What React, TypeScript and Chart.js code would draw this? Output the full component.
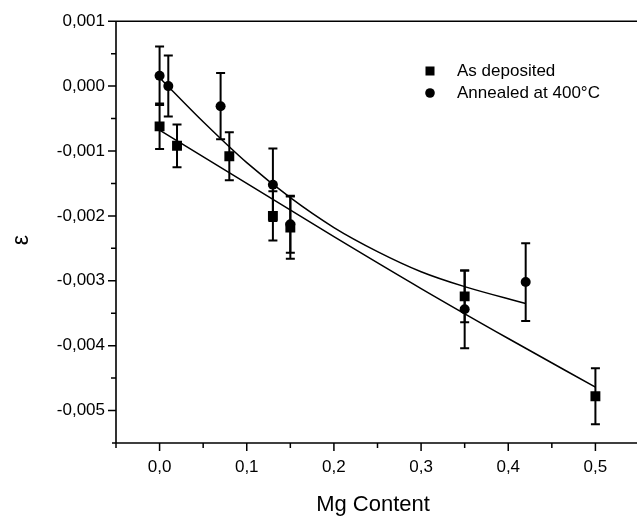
import React, { useEffect, useRef } from "react";
import { Chart, registerables } from "chart.js";

Chart.register(...registerables);

// As deposited (squares)
const depX = [0, 0.02, 0.08, 0.13, 0.15, 0.35, 0.5];
const depY = [-0.00062, -0.00092, -0.00108, -0.0020, -0.00218, -0.00324, -0.00478];
const depErr = [0.00035, 0.00033, 0.00037, 0.00038, 0.00048, 0.0004, 0.00043];

// Annealed at 400°C (circles)
const annX = [0, 0.01, 0.07, 0.13, 0.15, 0.35, 0.42];
const annY = [0.00016, 0.0, -0.00031, -0.00152, -0.00213, -0.00344, -0.00302];
const annErr = [0.00045, 0.00047, 0.00051, 0.00056, 0.00044, 0.0006, 0.0006];

// Fitted curves
const depFitX = [0, 0.1, 0.2, 0.3, 0.4, 0.5];
const depFitY = [-0.00068, -0.0015, -0.00232, -0.00312, -0.00389, -0.00464];
const annFitX = [0, 0.05, 0.1, 0.15, 0.2, 0.25, 0.3, 0.35, 0.42];
const annFitY = [0.00013, -0.00055, -0.00118, -0.00172, -0.00218, -0.00255, -0.00286, -0.00309, -0.00335];

const xMajor = [0, 0.1, 0.2, 0.3, 0.4, 0.5];
const xMinor = [-0.05, 0.05, 0.15, 0.25, 0.35, 0.45, 0.55];
const yMajor = [0.001, 0, -0.001, -0.002, -0.003, -0.004, -0.005];
const yMinor = [0.0005, -0.0005, -0.0015, -0.0025, -0.0035, -0.0045];

const seriesLabels = ["As deposited", "Annealed at 400°C"];
const xTitle = "Mg Content";
const yTitle = "ε";

const FONT = "'Liberation Sans', Arial, sans-serif";
const CANVAS_W = 646;
const CANVAS_H = 525;

// dataset order: 0 = annealed (circles), 1 = as deposited (squares)
const errorBars = {
  id: "errorBars",
  beforeDatasetsDraw(chart: any) {
    const ctx = chart.ctx;
    const xs = chart.scales.x;
    const ys = chart.scales.y;
    const sets = [
      { xv: annX, vals: annY, errs: annErr },
      { xv: depX, vals: depY, errs: depErr },
    ];
    ctx.save();
    ctx.strokeStyle = "#000";
    ctx.lineWidth = 2;
    sets.forEach((s) => {
      s.xv.forEach((xv, j) => {
        const x = xs.getPixelForValue(xv);
        const t = ys.getPixelForValue(s.vals[j] + s.errs[j]);
        const b = ys.getPixelForValue(s.vals[j] - s.errs[j]);
        ctx.beginPath();
        ctx.moveTo(x, t);
        ctx.lineTo(x, b);
        ctx.moveTo(x - 4.5, t);
        ctx.lineTo(x + 4.5, t);
        ctx.moveTo(x - 4.5, b);
        ctx.lineTo(x + 4.5, b);
        ctx.stroke();
      });
    });
    ctx.restore();
  },
};

const frame = {
  id: "frame",
  afterDraw(chart: any) {
    const ctx = chart.ctx;
    const { left, right, top, bottom } = chart.chartArea;
    const xs = chart.scales.x;
    const ys = chart.scales.y;
    ctx.save();
    ctx.strokeStyle = "#000";
    ctx.lineWidth = 1.6;
    ctx.beginPath();
    ctx.moveTo(left, top);
    ctx.lineTo(right, top);
    ctx.moveTo(left, top);
    ctx.lineTo(left, bottom);
    ctx.moveTo(left - 4, bottom);
    ctx.lineTo(right, bottom);
    ctx.stroke();
    ctx.lineWidth = 1.5;
    ctx.beginPath();
    xMajor.forEach((v) => {
      const px = xs.getPixelForValue(v);
      ctx.moveTo(px, bottom);
      ctx.lineTo(px, bottom + 8);
    });
    xMinor.forEach((v) => {
      const px = xs.getPixelForValue(v);
      ctx.moveTo(px, bottom);
      ctx.lineTo(px, bottom + 5);
    });
    yMajor.forEach((v) => {
      const py = ys.getPixelForValue(v);
      ctx.moveTo(left, py);
      ctx.lineTo(left - 8, py);
    });
    yMinor.forEach((v) => {
      const py = ys.getPixelForValue(v);
      ctx.moveTo(left, py);
      ctx.lineTo(left - 5, py);
    });
    ctx.stroke();

    // axis titles
    ctx.fillStyle = "#000";
    ctx.font = `22px ${FONT}`;
    ctx.textAlign = "center";
    ctx.textBaseline = "middle";
    ctx.fillText(xTitle, 373, 505);
    ctx.save();
    ctx.translate(22, 240);
    ctx.rotate(-Math.PI / 2);
    ctx.font = `23px ${FONT}`;
    ctx.fillText(yTitle, 0, 0);
    ctx.restore();

    // legend
    ctx.font = `17px ${FONT}`;
    ctx.textAlign = "left";
    ctx.fillRect(425.5, 66.5, 9, 9);
    ctx.fillText(seriesLabels[0], 457, 71);
    ctx.beginPath();
    ctx.arc(430, 93, 4.8, 0, Math.PI * 2);
    ctx.fill();
    ctx.fillText(seriesLabels[1], 457, 93);
    ctx.restore();
  },
};

export default function App() {
  const ref = useRef<HTMLCanvasElement | null>(null);
  useEffect(() => {
    if (!ref.current) return;
    const chart = new Chart(ref.current, {
      type: "scatter",
      data: {
        datasets: [
          {
            label: seriesLabels[1],
            data: annX.map((x, i) => ({ x, y: annY[i] })),
            pointStyle: "circle",
            pointRadius: 5,
            pointBackgroundColor: "#000",
            pointBorderWidth: 0,
            showLine: false,
          },
          {
            label: seriesLabels[0],
            data: depX.map((x, i) => ({ x, y: depY[i] })),
            pointStyle: "rect",
            pointRadius: 7,
            pointBackgroundColor: "#000",
            pointBorderWidth: 0,
            showLine: false,
          },
          {
            label: "fit1",
            data: depFitX.map((x, i) => ({ x, y: depFitY[i] })),
            showLine: true,
            pointRadius: 0,
            borderColor: "#000",
            borderWidth: 1.5,
            cubicInterpolationMode: "monotone",
          },
          {
            label: "fit2",
            data: annFitX.map((x, i) => ({ x, y: annFitY[i] })),
            showLine: true,
            pointRadius: 0,
            borderColor: "#000",
            borderWidth: 1.5,
            cubicInterpolationMode: "monotone",
          },
        ],
      },
      options: {
        animation: false,
        responsive: false,
        maintainAspectRatio: false,
        layout: { padding: { top: 20, right: CANVAS_W - 639, left: 0, bottom: 0 } },
        plugins: { legend: { display: false }, tooltip: { enabled: false } },
        scales: {
          x: {
            type: "linear",
            min: -0.05,
            max: 0.55,
            grid: { display: false, drawTicks: false },
            border: { display: false },
            afterBuildTicks: (s: any) => {
              s.ticks = xMajor.map((v) => ({ value: v }));
            },
            afterFit: (s: any) => {
              s.height = CANVAS_H - 443;
            },
            ticks: {
              padding: 14,
              color: "#000",
              font: { family: FONT, size: 17 },
              maxRotation: 0,
              callback: (v: any) => Number(v).toFixed(1).replace(".", ","),
            },
          },
          y: {
            type: "linear",
            min: -0.0055,
            max: 0.001,
            grid: { display: false, drawTicks: false },
            border: { display: false },
            afterBuildTicks: (s: any) => {
              s.ticks = yMajor.map((v) => ({ value: v }));
            },
            afterFit: (s: any) => {
              s.width = 116;
            },
            ticks: {
              padding: 11,
              color: "#000",
              font: { family: FONT, size: 17 },
              callback: (v: any) => Number(v).toFixed(3).replace(".", ","),
            },
          },
        },
      },
      plugins: [errorBars, frame],
    });
    return () => chart.destroy();
  }, []);
  return (
    <div style={{ position: "fixed", left: 0, top: 0, width: 637, height: 525, overflow: "hidden", background: "#fff" }}>
      <canvas ref={ref} width={CANVAS_W} height={CANVAS_H} style={{ display: "block" }} />
    </div>
  );
}
